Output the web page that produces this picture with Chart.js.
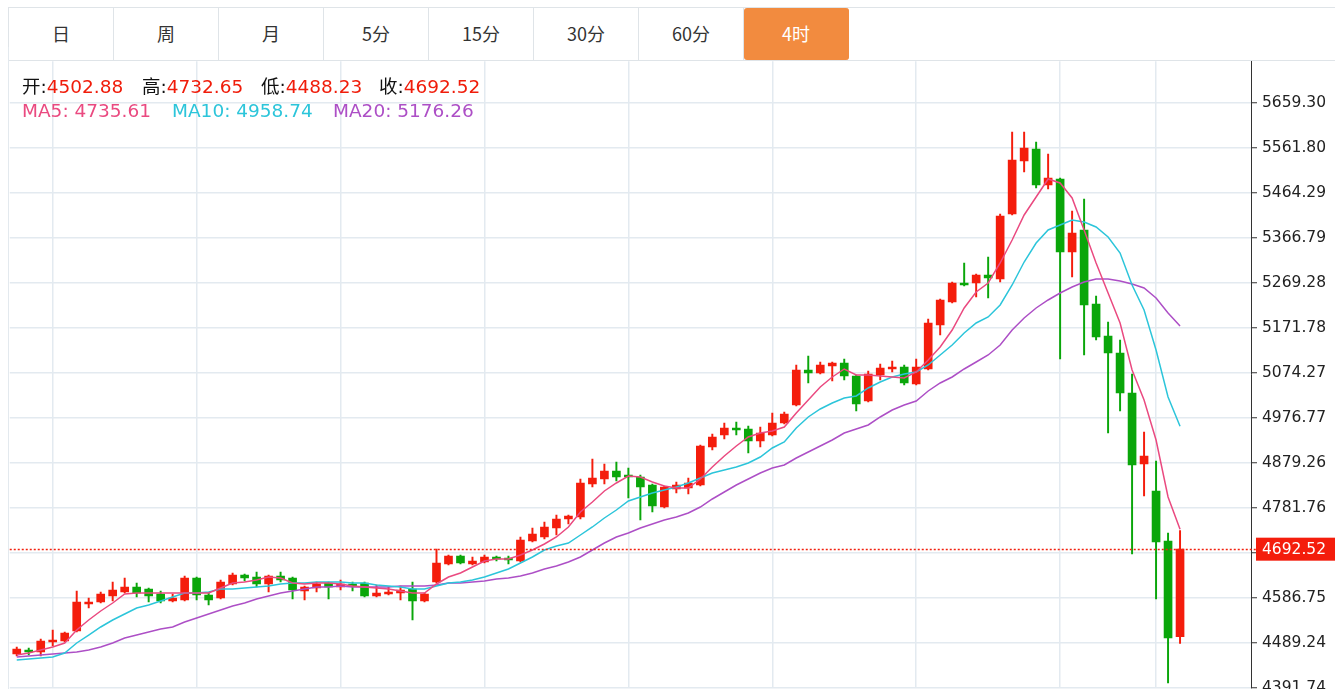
<!DOCTYPE html>
<html>
<head>
<meta charset="utf-8">
<script src="https://cdn.jsdelivr.net/npm/chart.js@4.4.1/dist/chart.umd.min.js"></script>
<style>
  body{margin:0;background:#fff;width:1335px;height:689px;overflow:hidden;position:relative;
       font-family:"DejaVu Sans","Noto Sans CJK SC",sans-serif}
  .tabs{position:absolute;left:8px;top:7px;width:1327px;height:54px;box-sizing:border-box;
        border-top:1px solid #dfe4e8;border-bottom:1px solid #dfe4e8;border-left:1px solid #dfe4e8;display:flex}
  .tab{width:105px;height:100%;box-sizing:border-box;border-right:1px solid #dfe4e8;text-align:center;
       line-height:51px;font-size:18px;color:#333;font-family:"Noto Sans CJK SC","DejaVu Sans",sans-serif}
  .tab.on{background:#f28b3f;color:#fff;border-radius:3px;border-right-color:#f28b3f}
  #wrap{position:absolute;left:8px;top:47px;width:1327px;height:655px;border-left:1px solid #e3e9ee;box-sizing:border-box}
  .info{position:absolute;font-size:18.5px;line-height:24px;white-space:nowrap}
  .info b{font-weight:normal;font-family:"Noto Sans CJK SC",sans-serif}
</style>
</head>
<body>
<div class="tabs" id="tabs"></div>
<div id="wrap"><canvas id="kline"></canvas></div>
<div id="legend"></div>

<script>
// ── Data (4h candles) ──
const periods = ['日','周','月','5分','15分','30分','60分','4时'];
const activePeriod = '4时';

const opens = [4465.40,4474.07,4469.74,4491.40,4493.57,4515.24,4573.74,4578.08,4591.08,4599.74,
  4610.58,4606.24,4595.41,4580.24,4582.41,4630.08,4593.24,4586.74,4617.08,4636.58,
  4632.25,4617.08,4634.41,4630.08,4601.91,4608.41,4619.25,4610.58,4617.08,4619.25,
  4591.08,4595.41,4597.58,4606.24,4580.24,4621.41,4660.41,4677.75,4660.41,4664.75,
  4675.58,4673.42,4666.91,4710.25,4718.92,4738.42,4757.92,4762.25,4833.76,4844.59,
  4861.93,4853.26,4848.93,4831.59,4783.92,4822.93,4825.09,4831.59,4913.93,4939.93,
  4955.10,4952.93,4926.93,4939.93,4965.93,5004.94,5080.77,5074.27,5089.44,5095.94,
  5067.77,5013.60,5069.94,5082.94,5087.27,5050.44,5082.94,5178.28,5228.12,5269.29,
  5269.29,5286.62,5277.95,5418.79,5533.64,5559.63,5481.63,5494.63,5336.46,5384.13,
  5223.78,5154.45,5117.61,5030.94,4877.09,4818.59,4710.25,4502.88];

const highs = [4480.57,4478.40,4497.90,4517.41,4513.07,4601.91,4586.74,4599.74,4621.41,4630.08,
  4619.25,4608.41,4601.91,4595.41,4634.41,4632.25,4597.58,4625.75,4640.91,4638.75,
  4643.08,4636.58,4643.08,4632.25,4612.74,4621.41,4621.41,4625.75,4621.41,4621.41,
  4614.91,4610.58,4612.74,4621.41,4597.58,4692.92,4679.92,4679.92,4675.58,4679.92,
  4677.75,4677.75,4718.92,4738.42,4751.42,4766.59,4766.59,4844.59,4887.93,4877.10,
  4881.43,4868.43,4853.26,4833.76,4829.43,4838.09,4846.76,4918.26,4942.10,4965.93,
  4968.10,4959.43,4957.27,4987.60,4989.77,5091.61,5111.11,5098.11,5098.11,5104.61,
  5069.94,5078.61,5093.77,5100.28,5091.61,5104.61,5191.28,5234.62,5271.45,5312.62,
  5288.79,5325.62,5418.79,5596.47,5596.47,5574.80,5548.80,5496.80,5425.30,5451.30,
  5241.12,5184.78,5145.78,5072.11,4946.43,4883.60,4727.59,4732.65];

const lows = [4461.07,4463.24,4461.07,4482.74,4491.40,4513.07,4565.08,4575.91,4580.24,4597.58,
  4588.91,4578.08,4575.91,4578.08,4580.24,4582.41,4571.58,4584.58,4614.91,4623.58,
  4610.58,4599.74,4621.41,4584.58,4582.41,4599.74,4584.58,4604.08,4601.91,4588.91,
  4588.91,4593.24,4582.41,4539.07,4578.08,4619.25,4658.25,4660.41,4658.25,4662.58,
  4666.91,4660.41,4664.75,4708.08,4714.58,4723.25,4747.09,4757.92,4827.26,4833.76,
  4840.26,4803.42,4755.75,4773.09,4781.76,4814.26,4812.09,4829.43,4907.43,4931.26,
  4939.93,4900.93,4913.93,4937.77,4963.77,5002.77,5052.61,5072.11,5056.94,5059.11,
  4991.94,5011.44,5059.11,5076.44,5048.27,5048.27,5080.77,5156.61,5225.95,5262.79,
  5238.95,5236.79,5271.45,5416.63,5509.80,5475.13,5472.96,5104.61,5282.29,5113.28,
  5145.78,4944.27,4991.94,4682.08,4807.76,4584.58,4402.57,4488.23];

const closes = [4476.24,4469.74,4493.57,4495.74,4510.91,4578.08,4578.08,4595.41,4604.08,4610.58,
  4597.58,4591.08,4580.24,4586.74,4630.08,4593.24,4582.41,4621.41,4636.58,4630.08,
  4617.08,4634.41,4625.75,4604.08,4610.58,4617.08,4610.58,4617.08,4612.74,4591.08,
  4597.58,4599.74,4604.08,4580.24,4595.41,4662.58,4677.75,4662.58,4666.91,4675.58,
  4671.25,4669.08,4712.42,4725.42,4740.59,4757.92,4764.42,4835.93,4846.76,4861.93,
  4848.93,4848.93,4827.26,4786.09,4827.26,4831.59,4835.93,4916.10,4935.60,4955.10,
  4950.77,4926.93,4944.27,4965.93,4985.43,5080.77,5074.27,5091.61,5095.94,5067.77,
  5007.10,5072.11,5085.11,5087.27,5052.61,5087.27,5182.61,5232.45,5269.29,5264.95,
  5286.62,5280.12,5414.46,5535.80,5561.80,5481.63,5496.80,5336.46,5377.63,5221.62,
  5152.28,5117.61,5030.94,4874.93,4894.43,4708.08,4500.07,4692.52];

const ma5 = [4463.24,4467.57,4474.07,4480.57,4489.24,4517.41,4539.07,4558.58,4575.91,4595.41,
  4597.58,4597.58,4597.58,4597.58,4597.58,4597.58,4597.58,4608.41,4619.25,4621.41,
  4625.75,4632.25,4630.08,4619.25,4617.08,4619.25,4619.25,4617.08,4612.74,4610.58,
  4608.41,4606.24,4601.91,4597.58,4597.58,4617.08,4632.25,4640.91,4653.91,4666.91,
  4671.25,4671.25,4679.92,4690.75,4703.75,4718.92,4740.59,4773.09,4794.76,4818.59,
  4835.93,4851.09,4848.93,4838.09,4829.43,4825.09,4825.09,4844.59,4870.59,4894.43,
  4916.10,4935.60,4944.27,4948.60,4957.27,4987.60,5015.77,5043.94,5065.61,5082.94,
  5069.94,5069.94,5067.77,5065.61,5063.44,5076.44,5102.44,5130.61,5167.45,5215.12,
  5249.78,5269.29,5312.62,5362.46,5416.63,5455.63,5494.63,5485.97,5453.46,5384.13,
  5312.62,5247.62,5182.61,5080.77,5015.77,4929.10,4805.59,4735.61];

const ma10 = [4452.40,4454.57,4456.74,4458.90,4467.57,4489.24,4506.57,4523.91,4539.07,4552.08,
  4565.08,4571.58,4580.24,4588.91,4597.58,4597.58,4599.74,4606.24,4606.24,4608.41,
  4610.58,4612.74,4617.08,4619.25,4619.25,4621.41,4621.41,4621.41,4619.25,4619.25,
  4614.91,4612.74,4610.58,4606.24,4606.24,4612.74,4619.25,4621.41,4625.75,4632.25,
  4640.91,4649.58,4662.58,4675.58,4690.75,4699.42,4705.92,4723.25,4740.59,4760.09,
  4777.42,4796.92,4805.59,4814.26,4820.76,4827.26,4835.93,4846.76,4857.59,4864.09,
  4870.59,4879.26,4892.26,4911.76,4924.76,4955.10,4978.93,4996.27,5009.27,5020.10,
  5024.44,5041.77,5054.78,5065.61,5072.11,5076.44,5091.61,5113.28,5134.94,5160.94,
  5182.61,5195.61,5221.62,5264.95,5314.78,5355.95,5384.13,5394.96,5405.79,5401.46,
  5390.63,5368.96,5334.29,5264.95,5210.78,5124.11,5022.27,4958.74];

const ma20 = [4458.90,4461.07,4463.24,4465.40,4467.57,4469.74,4474.07,4480.57,4489.24,4500.07,
  4506.57,4513.07,4519.57,4523.91,4534.74,4543.41,4552.08,4560.74,4569.41,4575.91,
  4584.58,4591.08,4597.58,4601.91,4606.24,4610.58,4610.58,4612.74,4610.58,4610.58,
  4610.58,4610.58,4612.74,4612.74,4612.74,4614.91,4619.25,4619.25,4621.41,4623.58,
  4627.91,4630.08,4634.41,4640.91,4649.58,4656.08,4664.75,4675.58,4690.75,4705.92,
  4718.92,4727.59,4738.42,4747.09,4755.75,4762.25,4770.92,4783.92,4801.26,4816.42,
  4831.59,4844.59,4857.59,4868.43,4874.93,4890.10,4903.10,4916.10,4929.10,4944.27,
  4952.93,4961.60,4978.93,4994.10,5004.94,5013.60,5035.27,5052.61,5065.61,5082.94,
  5098.11,5113.28,5134.94,5167.45,5193.45,5215.12,5232.45,5247.62,5260.62,5271.45,
  5277.95,5277.95,5273.62,5267.12,5258.45,5236.79,5204.28,5176.26];

// price axis labels and the candles where the time grid lines fall
const yTickLabels = ['4391.74','4489.24','4586.75','4684.25','4781.76','4879.26','4976.77',
  '5074.27','5171.78','5269.28','5366.79','5464.29','5561.80','5659.30'];
const gridAt = [3, 15, 27, 39, 51, 63, 75, 87, 95];

const UP = '#f41d0c', DOWN = '#0aa60a';
const C5 = '#ea4a80', C10 = '#2cc5da', C20 = '#ad4fc6';

// ── Period tabs ──
document.getElementById('tabs').innerHTML = periods
  .map(p => `<div class="tab${p === activePeriod ? ' on' : ''}">${p}</div>`).join('');

// ── Header legend ──
const last = closes.length - 1;
const fmt = v => v.toFixed(2);
const legendItems = [
  {x:22,  y:73, label:'开:', val:fmt(opens[last]),  lc:'#111', vc:'#f01c0a'},
  {x:142, y:73, label:'高:', val:fmt(highs[last]),  lc:'#111', vc:'#f01c0a'},
  {x:261, y:73, label:'低:', val:fmt(lows[last]),   lc:'#111', vc:'#f01c0a'},
  {x:379, y:73, label:'收:', val:fmt(closes[last]), lc:'#111', vc:'#f01c0a'},
  {x:22,  y:99, label:'MA5: ',  val:fmt(ma5[last]),  lc:C5,  vc:C5},
  {x:172, y:99, label:'MA10: ', val:fmt(ma10[last]), lc:C10, vc:C10},
  {x:333, y:99, label:'MA20: ', val:fmt(ma20[last]), lc:C20, vc:C20},
];
document.getElementById('legend').innerHTML = legendItems.map(it =>
  `<div class="info" style="left:${it.x}px;top:${it.y}px"><span style="color:${it.lc}">${
    it.label.startsWith('MA') ? it.label : '<b>' + it.label.slice(0,1) + '</b>:'}</span><span style="color:${it.vc}">${it.val}</span></div>`
).join('');

// ── Chart ──
Chart.defaults.font.family = '"DejaVu Sans", sans-serif';
Chart.defaults.animation = false;

const idx = closes.map((_, i) => i);
const candleColor = idx.map(i => closes[i] >= opens[i] ? UP : DOWN);

const lastPriceLine = {
  id: 'lastPriceLine',
  afterDatasetsDraw(chart){
    const {ctx, chartArea, scales:{y}} = chart;
    const py = Math.round(y.getPixelForValue(closes[last])) + 0.5;
    ctx.save();
    ctx.strokeStyle = '#f2200e';
    ctx.lineWidth = 1.3;
    ctx.setLineDash([2, 2]);
    ctx.beginPath();
    ctx.moveTo(chartArea.left, py);
    ctx.lineTo(chartArea.right + 6, py);
    ctx.stroke();
    ctx.restore();
  },
  afterDraw(chart){
    const {ctx, chartArea, scales:{y}} = chart;
    const py = y.getPixelForValue(closes[last]);
    ctx.save();
    ctx.fillStyle = UP;
    ctx.fillRect(chartArea.right + 5, py - 11.5, 80, 23);
    ctx.fillStyle = '#fff';
    ctx.font = '15.5px "DejaVu Sans"';
    ctx.textBaseline = 'middle';
    ctx.fillText(fmt(closes[last]), chartArea.right + 11, py + 1);
    ctx.restore();
  }
};

const chart = new Chart(document.getElementById('kline'), {
  type: 'bar',
  data: {
    datasets: [
      { type:'line', data: idx.map(i => ({x:i, y:ma5[i]})),  borderColor:C5,  borderWidth:1.5, pointRadius:0, order:0 },
      { type:'line', data: idx.map(i => ({x:i, y:ma10[i]})), borderColor:C10, borderWidth:1.5, pointRadius:0, order:0 },
      { type:'line', data: idx.map(i => ({x:i, y:ma20[i]})), borderColor:C20, borderWidth:1.5, pointRadius:0, order:0 },
      { data: idx.map(i => ({x:i, y:[opens[i], closes[i]]})), backgroundColor:candleColor,
        barThickness:8, minBarLength:1.5, grouped:false, order:1 },
      { data: idx.map(i => ({x:i, y:[lows[i], highs[i]]})), backgroundColor:candleColor,
        barThickness:1.3, grouped:false, order:2 },
    ]
  },
  options: {
    responsive: true,
    maintainAspectRatio: false,
    layout: { padding: 0 },
    events: [],
    plugins: { legend:{display:false}, tooltip:{enabled:false} },
    scales: {
      x: {
        type: 'linear',
        min: -0.667, max: 102.917,
        offset: false,
        afterBuildTicks: s => { s.ticks = gridAt.map(v => ({value:v})); },
        ticks: { display:false },
        grid: { color:'#e3eaf0', lineWidth:1.5, drawTicks:false, offset:false },
        border: { display:false }
      },
      y: {
        position: 'right',
        min: 4385.23, max: 5752.47,
        afterBuildTicks: s => { s.ticks = yTickLabels.map(t => ({value: parseFloat(t)})); },
        afterFit: s => { s.width = 84; },
        ticks: {
          color:'#222', padding:5,
          font:{ size:15.5 },
          callback: v => v.toFixed(2)
        },
        grid: { color:'#e3eaf0', lineWidth:1.5, tickColor:'#333', tickLength:6, tickWidth:1 },
        border: { display:true, color:'#333', width:1 }
      }
    }
  },
  plugins: [lastPriceLine]
});

// fit the axis ranges so the window matches the original view:
// 12px per candle with the first one at x=16, ticks 5659.30 / 4489.24 at y=103 / 643
const rect = chart.canvas.getBoundingClientRect();
const ca = chart.chartArea;
const upp = (parseFloat(yTickLabels[13]) - parseFloat(yTickLabels[1])) / 540;
chart.options.scales.y.max = parseFloat(yTickLabels[13]) + (103 - (rect.top + ca.top)) * upp;
chart.options.scales.y.min = parseFloat(yTickLabels[1]) - ((rect.top + ca.bottom) - 643) * upp;
chart.options.scales.x.min = (rect.left + ca.left - 16) / 12;
chart.options.scales.x.max = (rect.left + ca.right - 16) / 12;
chart.update('none');
</script>
</body>
</html>
